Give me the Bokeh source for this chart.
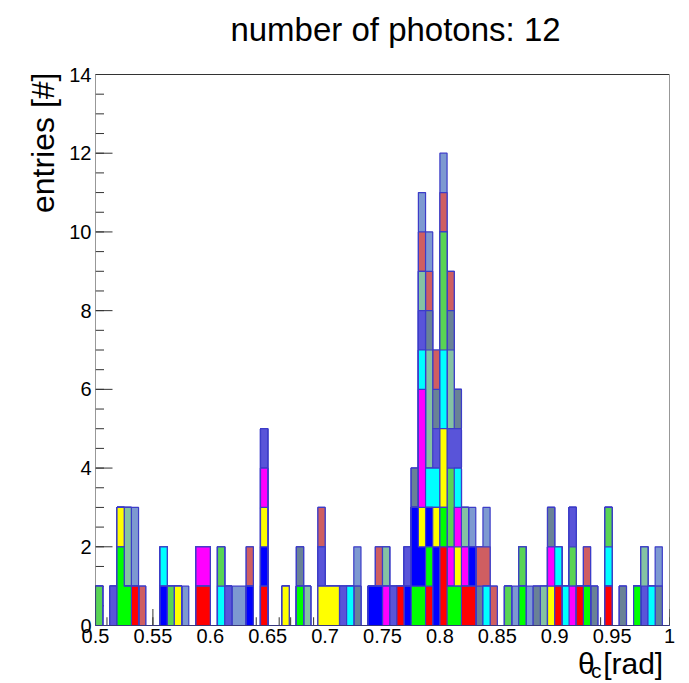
import numpy as np
from bokeh.plotting import figure
from bokeh.models import FixedTicker, Range1d, Title, Label
from bokeh.embed import file_html
from bokeh.resources import INLINE

# ---- histogram binning -------------------------------------------------
N_BINS = 80
THETA_MIN, THETA_MAX = 0.5, 1.0
Y_MAX = 14

# ---- one stacked histogram per photon (bottom of the stack first) -------
# colours follow the ROOT palette indices 2,3,4,5,6,7,8,9,30,36,46,38
photon_colors = [
    "#ff0000", "#00ff00", "#0000ff", "#ffff00", "#ff00ff", "#00ffff",
    "#59d454", "#5954d9", "#85c2a3", "#698296", "#cf5e61", "#7d99d1",
]

# bin index (0..79) of every theta_c candidate of each photon
photon_bins = [
    [5, 14, 15, 23, 42, 46, 48, 48, 51, 52, 64, 67, 71],
    [3, 3, 4, 28, 44, 45, 46, 48, 49, 50, 59, 68, 75],
    [9, 21, 23, 38, 39, 43, 44, 44, 45, 46, 47, 47, 52],
    [3, 11, 23, 26, 31, 32, 33, 45, 47, 48, 48, 50, 63],
    [14, 15, 23, 40, 45, 45, 45, 49, 50, 51, 63, 66],
    [9, 17, 35, 45, 46, 47, 48, 48, 50, 54, 64, 65, 71, 77],
    [0, 10, 17, 48, 48, 48, 49, 49, 57, 59, 66, 71],
    [2, 18, 23, 31, 34, 41, 43, 45, 47, 49, 50, 66, 76],
    [4, 4, 29, 40, 45, 46, 46, 46, 49, 49, 51, 62, 76],
    [28, 36, 44, 46, 47, 49, 50, 53, 61, 63, 69, 73, 78],
    [6, 21, 31, 39, 45, 46, 47, 48, 49, 53, 54, 55, 68],
    [5, 5, 12, 19, 20, 36, 45, 46, 48, 52, 54, 58, 60, 78],
]

x_ticks = [0.5, 0.55, 0.6, 0.65, 0.7, 0.75, 0.8, 0.85, 0.9, 0.95, 1.0]
x_tick_labels = ["0.5", "0.55", "0.6", "0.65", "0.7", "0.75", "0.8",
                 "0.85", "0.9", "0.95", "1"]
y_ticks = [0, 2, 4, 6, 8, 10, 12, 14]
y_tick_labels = ["0", "2", "4", "6", "8", "10", "12", "14"]

title_text = "number of photons: 12"
x_title_main = "\u03b8  [rad]"
x_title_sub = "c"
y_title = "entries [#]"

FONT = "Liberation Sans"
OUTLINE = "#3c3cc8"
AXIS_COLOR = "#333333"

# canvas and histogram-box geometry (pixels)
W, H = 689, 683
BL, BR, BT, BB = 95, 20, 74, 58
box_w = W - BL - BR
box_h = H - BT - BB
x_per_px = (THETA_MAX - THETA_MIN) / box_w
y_per_px = Y_MAX / box_h
# the plotting area reaches the top of the canvas so that the title fits in it
y_top = (H - BB) * y_per_px

p = figure(width=W, height=H, output_backend="svg", toolbar_location=None,
           title_location=None,
           x_range=Range1d(THETA_MIN, THETA_MAX), y_range=Range1d(0, y_top),
           min_border_left=BL, min_border_right=BR,
           min_border_top=0, min_border_bottom=BB)
p.grid.visible = False
p.outline_line_color = None
p.background_fill_color = "white"
p.border_fill_color = "white"

# ---- tick marks drawn inside the box, underneath the histograms ---------
x_minor = np.round(np.arange(THETA_MIN, THETA_MAX + 1e-9, 0.01), 3)
y_minor = np.arange(0, Y_MAX + 1e-9, 0.5)
maj_len_y = 16.5 * y_per_px
maj_len_x = 17.0 * x_per_px
p.segment(x0=x_minor, y0=0, x1=x_minor, y1=maj_len_y / 2,
          line_color=AXIS_COLOR, line_width=1)
p.segment(x0=x_ticks, y0=0, x1=x_ticks, y1=maj_len_y,
          line_color=AXIS_COLOR, line_width=1)
p.segment(x0=THETA_MIN, y0=y_minor, x1=THETA_MIN + maj_len_x / 2, y1=y_minor,
          line_color=AXIS_COLOR, line_width=1)
p.segment(x0=THETA_MIN, y0=y_ticks, x1=THETA_MIN + maj_len_x, y1=y_ticks,
          line_color=AXIS_COLOR, line_width=1)

# ---- stacked histograms: cumulative sums drawn from the top layer down --
edges = np.linspace(THETA_MIN, THETA_MAX, N_BINS + 1)
counts = np.array([np.bincount(b, minlength=N_BINS) for b in photon_bins])
cumulative = np.cumsum(counts, axis=0)

step_x = np.concatenate([[edges[0]], np.repeat(edges, 2)[1:-1], [edges[-1]]])
for color, top in reversed(list(zip(photon_colors, cumulative))):
    step_y = np.concatenate([[0], np.repeat(top, 2), [0]])
    p.patch(step_x, step_y, fill_color=color, line_color=OUTLINE,
            line_width=1.2)

# histogram box
p.quad(left=THETA_MIN, right=THETA_MAX, bottom=0, top=Y_MAX,
       fill_color=None, line_color=AXIS_COLOR, line_width=1)

# ---- axes: labels only, ticks are drawn above ----------------------------
for ax, ticks, labels in ((p.xaxis, x_ticks, x_tick_labels),
                          (p.yaxis, y_ticks, y_tick_labels)):
    ax.ticker = FixedTicker(ticks=ticks, minor_ticks=[])
    ax.major_label_overrides = dict(zip(ticks, labels))
    ax.axis_line_color = None
    ax.major_tick_line_color = None
    ax.minor_tick_line_color = None
    ax.major_tick_in = 0
    ax.major_tick_out = 0
    ax.major_label_text_font = FONT
    ax.major_label_text_font_size = "20px"
    ax.major_label_text_color = "black"
p.xaxis.major_label_standoff = 3
p.yaxis.major_label_standoff = 4


def text_style(size):
    return dict(text_font=FONT, text_font_size=size,
                text_font_style="normal", text_color="black")


# ---- titles ---------------------------------------------------------------
p.add_layout(Label(x=THETA_MIN + 300 * x_per_px, y=(H - BB - 29) * y_per_px,
                   text=title_text, text_align="center",
                   text_baseline="alphabetic", **text_style("33px")))

p.add_layout(Title(text=y_title, align="right", offset=BT - 2, standoff=12,
                   **text_style("32px")), "left")
p.add_layout(Title(text=x_title_main, align="right", offset=-2, standoff=-2,
                   **text_style("30px")), "below")
p.add_layout(Title(text=x_title_sub, align="right", offset=68, standoff=-40,
                   vertical_align="top", **text_style("21px")), "below")

open("out.html", "w").write(file_html(p, INLINE))
